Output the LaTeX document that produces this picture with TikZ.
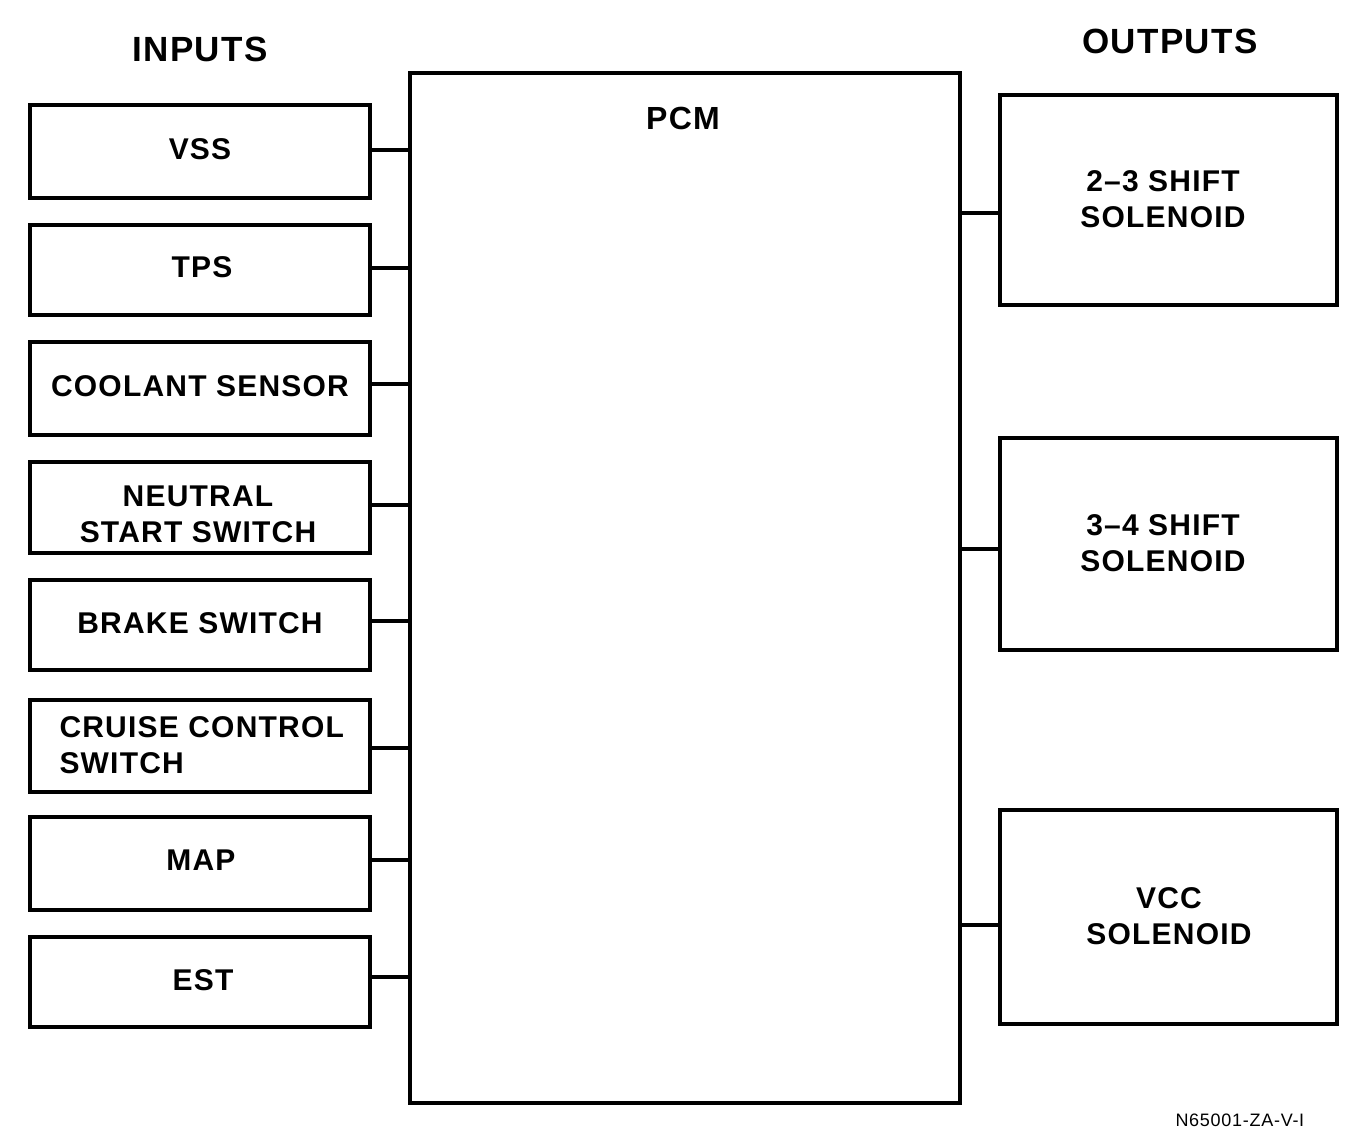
\documentclass[tikz,border=0pt]{standalone}
\usepackage{fontspec}
\setmainfont{Liberation Sans}[LetterSpace=4]
\begin{document}
\begin{tikzpicture}[x=1pt,y=-1pt,
  box/.style={draw,line width=3.2pt,inner sep=0pt},
  lbl/.style={font=\fontsize{30}{36}\selectfont\bfseries,align=center},
  head/.style={font=\fontsize{35}{40}\selectfont\bfseries},
  wire/.style={line width=3.2pt}]
\useasboundingbox (0,0) rectangle (1360,1132);
% titles
\node[head] (inputs) at (200,49) {INPUTS};
\node[head] (outputs) at (1170,41) {OUTPUTS};
% PCM
\draw[box] (410,73) rectangle (960,1103);
\coordinate (pcmL) at (410,0);
\coordinate (pcmR) at (960,0);
\node[head,font=\fontsize{32}{36}\selectfont\bfseries] (pcm) at (683,118) {PCM};
% inputs
\foreach \n/\ya/\yb/\yc in {vss/105/198/150, tps/225/315/268, cool/342/435/384, neu/462/553/505, brk/580/670/621, cru/700/792/748, map/817/910/860, est/937/1027/977}{
  \draw[box] (30,\ya) rectangle (370,\yb);
  \coordinate (\n) at (370,\yc);
  \draw[wire] (\n) -- (pcmL |- \n);
}
\node[lbl] (tvss) at (200,149) {VSS};
\node[lbl] (ttps) at (202,267) {TPS};
\node[lbl] (tcool) at (200,386) {COOLANT\ SENSOR};
\node[lbl] (tneu) at (198,514) {NEUTRAL\\START\ SWITCH};
\node[lbl] (tbrk) at (200,623) {BRAKE\ SWITCH};
\node[lbl,align=left,anchor=west] (tcru) at (56,745) {CRUISE\ CONTROL\\SWITCH};
\node[lbl] (tmap) at (201,860) {MAP};
\node[lbl] (test) at (203,980) {EST};
% outputs
\foreach \n/\ya/\yb/\yc in {o1/95/305/213, o2/438/650/549, o3/810/1024/925}{
  \draw[box] (1000,\ya) rectangle (1337,\yb);
  \coordinate (\n) at (1000,\yc);
  \draw[wire] (pcmR |- \n) -- (\n);
}
\node[lbl] (to1) at (1163,199) {2--3\ SHIFT\\SOLENOID};
\node[lbl] (to2) at (1163,543) {3--4\ SHIFT\\SOLENOID};
\node[lbl] (to3) at (1169,916) {VCC\\SOLENOID};
% footer
\node[font=\fontsize{18}{22}\selectfont,anchor=west] (foot) at (1172,1120) {N65001-ZA-V-I};
\end{tikzpicture}
\end{document}
